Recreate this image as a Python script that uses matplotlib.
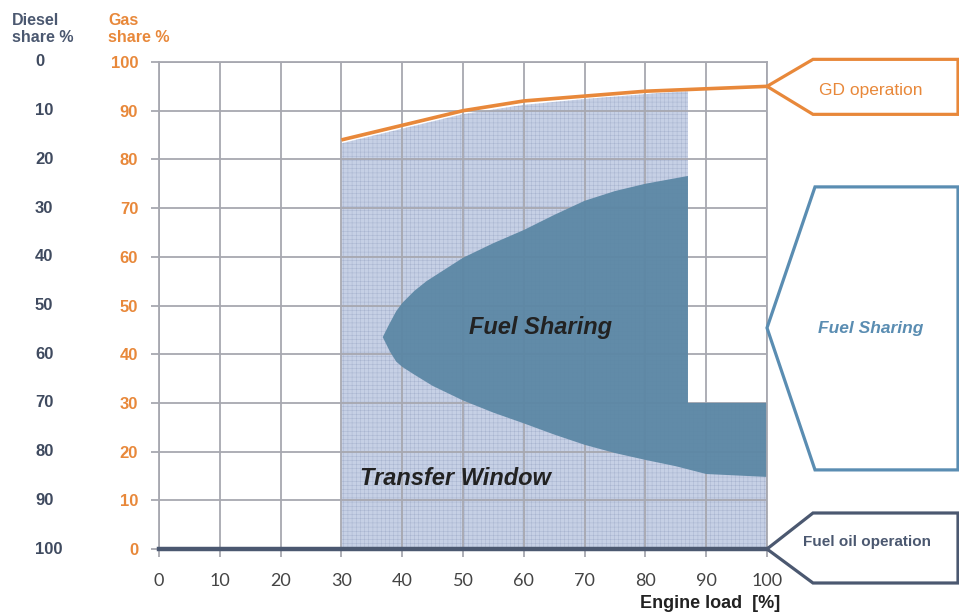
import matplotlib
matplotlib.use("Agg")
import matplotlib.pyplot as plt
from matplotlib.patches import Polygon

plt.rcParams['font.family'] = ['Liberation Sans', 'DejaVu Sans']
plt.rcParams['hatch.linewidth'] = 0.35

# ---------------- data ----------------
x_ticks = [0, 10, 20, 30, 40, 50, 60, 70, 80, 90, 100]
gas_ticks = [0, 10, 20, 30, 40, 50, 60, 70, 80, 90, 100]
diesel_labels = [100 - g for g in gas_ticks]

# GD operation line (gas share vs engine load)
gd_x = [30, 40, 50, 60, 70, 80, 90, 100]
gd_y = [84, 87, 90, 92, 93, 94, 94.5, 95]

# Transfer window (upper edge follows GD line up to the step)
tw_x = [30, 40, 50, 60, 70, 80, 87]
tw_top = [83.3, 86.3, 89.3, 91.2, 92.4, 93.4, 94.0]
step_x = 87
step_y = 30

# Fuel sharing envelope
fs_upper_x = [36.8, 37.8, 39, 40, 42, 44, 46, 50, 55, 60, 65, 70, 75, 80, 87]
fs_upper_y = [43.5, 46.0, 48.8, 50.5, 53.0, 55.0, 56.6, 59.8, 62.8, 65.5, 68.6, 71.5, 73.5, 75.0, 76.6]
fs_lower_x = [36.8, 38, 39, 40, 42, 45, 50, 55, 60, 65, 70, 75, 80, 85, 90, 100]
fs_lower_y = [43.5, 40.5, 38.5, 37.4, 35.8, 33.5, 30.5, 28.0, 25.8, 23.5, 21.4, 19.7, 18.3, 17.0, 15.4, 14.8]

# ---------------- figure ----------------
W, H = 959, 612
fig = plt.figure(figsize=(W / 100, H / 100), dpi=100)
ax = fig.add_axes([159 / W, 1 - 549 / H, (767 - 159) / W, (549 - 62) / H])
ax.set_xlim(0, 100)
ax.set_ylim(0, 100)

grid_col = '#A7A8B0'
ax.set_xticks(x_ticks)
ax.set_yticks(gas_ticks)
ax.grid(True, color=grid_col, lw=1.3)
ax.set_axisbelow('line')  # grid above the light region, below dark region
for s in ['left', 'top', 'right']:
    ax.spines[s].set_color(grid_col)
    ax.spines[s].set_linewidth(1.3)
ax.spines['bottom'].set_visible(False)

ax.tick_params(axis='y', length=6, width=1.3, color=grid_col, pad=9,
               labelsize=12, labelcolor='#E8883A')
for lab in ax.get_yticklabels():
    lab.set_fontweight('bold')
ax.tick_params(axis='x', length=6, width=1.3, color=grid_col, pad=11,
               labelsize=13, labelcolor='#444444')
for lab in ax.get_xticklabels():
    lab.set_family(['Lato', 'DejaVu Sans'])

# transfer window (light fine-meshed region)
tw_poly = [(tw_x[0], 0)] + list(zip(tw_x, tw_top)) + [(step_x, step_y), (100, step_y), (100, 0)]
ax.add_patch(Polygon(tw_poly, closed=True, facecolor='#C6D0E5', edgecolor='none', zorder=1))
ax.add_patch(Polygon(tw_poly, closed=True, facecolor='none', edgecolor='#A9B5D0', lw=0,
                     hatch='++++', zorder=1.1))

# fuel sharing (dark region)
fs_poly = list(zip(fs_upper_x, fs_upper_y)) + [(step_x, step_y), (100, step_y)] + \
    list(zip(fs_lower_x[::-1], fs_lower_y[::-1]))
ax.add_patch(Polygon(fs_poly, closed=True, facecolor='#5A86A4', edgecolor='none',
                     alpha=0.93, zorder=2))

# GD line and fuel oil line
ax.plot(gd_x, gd_y, color='#E8883A', lw=2.6, zorder=4, solid_capstyle='butt')
ax.plot([0, 100], [0, 0], color='#4B5870', lw=3.2, zorder=4, clip_on=False)

# labels inside plot
ax.text(62.7, 45.4, 'Fuel Sharing', fontsize=17, fontweight='bold', style='italic',
        color='#222222', ha='center', va='center', zorder=5)
ax.text(48.8, 14.4, 'Transfer Window', fontsize=17, fontweight='bold', style='italic',
        color='#222222', ha='center', va='center', zorder=5)

# diesel labels column
for g, d in zip(gas_ticks, diesel_labels):
    px, py = ax.transData.transform((0, g))
    fig.text(35 / W, py / H, str(d), fontsize=12, fontweight='bold', color='#3F4A5F',
             ha='left', va='center')

fig.text(12 / W, 1 - 29 / H, 'Diesel\nshare %', fontsize=11.5, fontweight='bold',
         color='#4B5870', ha='left', va='center', multialignment='left', linespacing=1.2)
fig.text(108 / W, 1 - 29 / H, 'Gas\nshare %', fontsize=11.5, fontweight='bold',
         color='#E8883A', ha='left', va='center', multialignment='left', linespacing=1.2)

fig.text(780 / W, 1 - 603 / H, 'Engine load  [%]', fontsize=13, fontweight='bold',
         color='#222222', ha='right', va='center')


# arrow-shaped callout boxes on the right
def callout(tip_y, up, down, corner_dx, color, text, text_x, text_dy, **tfont):
    tx, ty = ax.transData.transform((100, tip_y))
    right = 958
    pts = [(tx, ty), (tx + corner_dx, ty + up), (right, ty + up),
           (right, ty - down), (tx + corner_dx, ty - down)]
    pts = [(p[0] / W, p[1] / H) for p in pts]
    fig.patches.append(Polygon(pts, closed=True, transform=fig.transFigure,
                               facecolor='white', edgecolor=color, lw=2.3,
                               joinstyle='miter', zorder=6))
    fig.text(text_x / W, (ty + text_dy) / H, text,
             color=color, ha='center', va='center', zorder=7, **tfont)


callout(95, 27, 28, 46, '#E8883A', 'GD operation', 871, -4, fontsize=12.5)
callout(45.4, 141, 142, 48, '#5A8DB2', 'Fuel Sharing', 871, -1,
        fontsize=12.5, fontweight='bold', style='italic')
callout(0, 36, 34, 46, '#4B5870', 'Fuel oil operation', 867, 7,
        fontsize=11, fontweight='bold')

fig.savefig('out.png', dpi=100)
